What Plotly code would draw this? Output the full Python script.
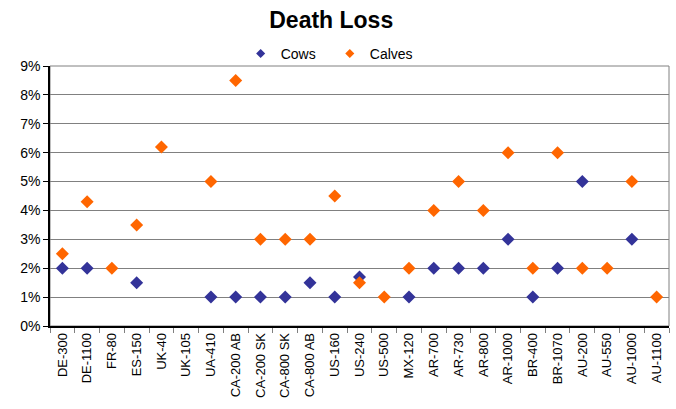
import plotly.graph_objects as go

categories = ["DE-300", "DE-1100", "FR-80", "ES-150", "UK-40", "UK-105", "UA-410",
              "CA-200 AB", "CA-200 SK", "CA-800 SK", "CA-800 AB", "US-160", "US-240",
              "US-500", "MX-120", "AR-700", "AR-730", "AR-800", "AR-1000", "BR-400",
              "BR-1070", "AU-200", "AU-550", "AU-1000", "AU-1100"]
# percent values (None = no visible marker)
cows = [2, 2, None, 1.5, None, None, 1, 1, 1, 1, 1.5, 1, 1.7, None, 1, 2, 2, 2, 3, 1,
        2, 5, None, 3, None]
calves = [2.5, 4.3, 2, 3.5, 6.2, None, 5, 8.5, 3, 3, 3, 4.5, 1.5, 1, 2, 4, 5, 4, 6, 2,
          6, 2, 2, 5, 1]

COW_COLOR = "#333399"
CALF_COLOR = "#FF6600"

to_frac = lambda vals: [v / 100 if v is not None else None for v in vals]

fig = go.Figure()
fig.add_trace(go.Scatter(x=categories, y=to_frac(cows), mode="markers", name="Cows",
                         showlegend=False,
                         marker=dict(symbol="diamond", size=10, color=COW_COLOR)))
fig.add_trace(go.Scatter(x=categories, y=to_frac(calves), mode="markers", name="Calves",
                         showlegend=False,
                         marker=dict(symbol="diamond", size=10, color=CALF_COLOR)))
# legend-only entries with smaller symbols, one legend box each so they can be placed
for name, color, leg in [("Cows", COW_COLOR, "legend"), ("Calves", CALF_COLOR, "legend2")]:
    fig.add_trace(go.Scatter(x=[None], y=[None], mode="markers", name=name, legend=leg,
                             marker=dict(symbol="diamond", size=7, color=color)))

# grey frame on top/right of plot area
fig.add_shape(type="rect", xref="paper", yref="paper", x0=0, x1=1, y0=0, y1=1,
              line=dict(color="#808080", width=1), layer="below")

legend_style = dict(orientation="h", y=0.985, xanchor="left", yanchor="bottom",
                    font=dict(size=14), itemwidth=30, bgcolor="rgba(0,0,0,0)")

fig.update_layout(
    width=676, height=409,
    margin=dict(l=50, r=7, t=66, b=83),
    paper_bgcolor="white", plot_bgcolor="white",
    font=dict(family="Liberation Sans, Arial, sans-serif", size=13, color="black"),
    title=dict(text="<b>Death Loss</b>", x=0.49, xanchor="center", y=0.97, yanchor="top",
               font=dict(size=23)),
    legend=dict(x=0.308, **legend_style),
    legend2=dict(x=0.452, **legend_style),
)
fig.update_xaxes(type="category", categoryorder="array", categoryarray=categories,
                 range=[-0.5, len(categories) - 0.5], automargin=False,
                 tickangle=-90, showgrid=False, showline=True, linecolor="black", linewidth=1.5,
                 ticks="outside", tickson="boundaries", ticklen=5, tickcolor="#808080",
                 tickfont=dict(size=13))
fig.update_yaxes(range=[0, 0.09], dtick=0.01, tickformat=".0%", showgrid=True,
                 gridcolor="#808080", gridwidth=1, showline=True, linecolor="black", linewidth=1.5,
                 ticks="outside", ticklen=5, tickcolor="black", zeroline=False, automargin=False,
                 tickfont=dict(size=14))

# drop the page's default body margin so the figure sits at the window origin
fig.write_html("out.html", config={"displayModeBar": False},
               post_script="document.body.style.margin='0';")
